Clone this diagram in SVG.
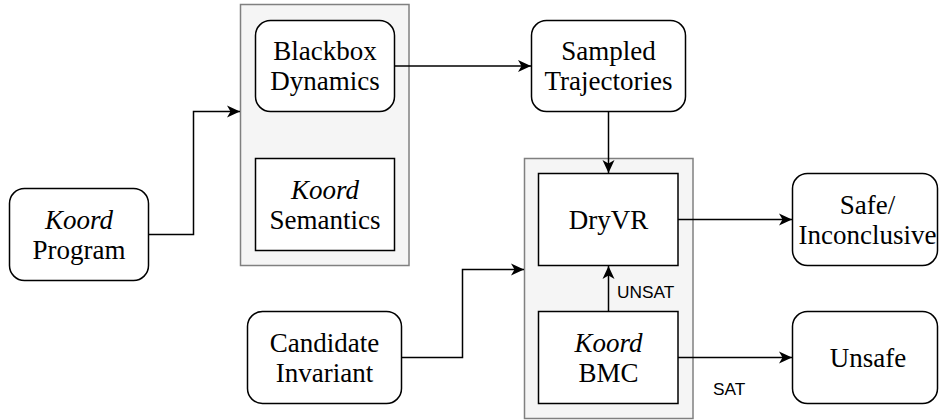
<svg xmlns="http://www.w3.org/2000/svg" width="939" height="420" viewBox="0 0 939 420">
  <style>
    .bg { fill: #ffffff; }
    .group { fill: #f5f5f5; stroke: #808080; stroke-width: 1.5; }
    .node { fill: #ffffff; stroke: #000000; stroke-width: 1.5; }
    .lbl { font-family: "Liberation Serif", "Times New Roman", serif; font-size: 27px; fill: #000000; text-anchor: middle; }
    .it { font-style: italic; }
    .edge { fill: none; stroke: #000000; stroke-width: 1.5; }
    .elbl { font-family: "Liberation Sans", Arial, sans-serif; font-size: 17.3px; fill: #000000; }
  </style>
  <defs>
    <marker id="arrow" markerUnits="userSpaceOnUse" markerWidth="14" markerHeight="13" refX="13" refY="6.5" orient="auto">
      <path d="M0,0.5 L13,6.5 L0,12.5 L3.5,6.5 Z" fill="#000000"/>
    </marker>
  </defs>
  <rect class="bg" x="0" y="0" width="939" height="420"/>

  <!-- container boxes -->
  <g id="model-group">
    <rect class="group" x="240.5" y="4.5" width="168.5" height="261"/>
  </g>
  <g id="verifier-group">
    <rect class="group" x="524.5" y="158.5" width="168.5" height="260"/>
  </g>

  <!-- nodes -->
  <g id="koord-program">
    <rect class="node" x="9.5" y="188.5" width="139" height="92" rx="15"/>
    <text class="lbl it" x="79" y="229">Koord</text>
    <text class="lbl" x="79" y="259">Program</text>
  </g>
  <g id="blackbox-dynamics">
    <rect class="node" x="255.5" y="20.5" width="139" height="91" rx="15"/>
    <text class="lbl" x="325" y="60">Blackbox</text>
    <text class="lbl" x="325" y="90">Dynamics</text>
  </g>
  <g id="koord-semantics">
    <rect class="node" x="255.5" y="158.5" width="139" height="92"/>
    <text class="lbl it" x="325" y="199">Koord</text>
    <text class="lbl" x="325" y="229">Semantics</text>
  </g>
  <g id="sampled-trajectories">
    <rect class="node" x="531.5" y="20.5" width="154" height="91" rx="15"/>
    <text class="lbl" x="608.5" y="60">Sampled</text>
    <text class="lbl" x="608.5" y="90">Trajectories</text>
  </g>
  <g id="dryvr">
    <rect class="node" x="538.5" y="173.5" width="139.5" height="92"/>
    <text class="lbl" x="608.5" y="228.5">DryVR</text>
  </g>
  <g id="koord-bmc">
    <rect class="node" x="538.5" y="311.5" width="139.5" height="92"/>
    <text class="lbl it" x="608.5" y="352">Koord</text>
    <text class="lbl" x="608.5" y="382">BMC</text>
  </g>
  <g id="candidate-invariant">
    <rect class="node" x="247.5" y="311.5" width="154" height="92" rx="15"/>
    <text class="lbl" x="324.5" y="352">Candidate</text>
    <text class="lbl" x="324.5" y="382">Invariant</text>
  </g>
  <g id="safe-inconclusive">
    <rect class="node" x="792.5" y="173.5" width="145" height="92" rx="15"/>
    <text class="lbl" x="867.5" y="214">Safe/</text>
    <text class="lbl" x="867.5" y="244">Inconclusive</text>
  </g>
  <g id="unsafe">
    <rect class="node" x="792.5" y="311.5" width="145" height="92" rx="15"/>
    <text class="lbl" x="868" y="367">Unsafe</text>
  </g>

  <!-- connectors -->
  <g id="connectors">
    <path class="edge" d="M148.5,234.5 H193.5 V111.5 H240" marker-end="url(#arrow)"/>
    <path class="edge" d="M394.5,66 H531" marker-end="url(#arrow)"/>
    <path class="edge" d="M608.5,111.5 V173" marker-end="url(#arrow)"/>
    <path class="edge" d="M678,219.5 H792" marker-end="url(#arrow)"/>
    <path class="edge" d="M401.5,357.5 H462.5 V269.5 H524" marker-end="url(#arrow)"/>
    <path class="edge" d="M608.5,311.5 V266" marker-end="url(#arrow)"/>
    <path class="edge" d="M678,357.5 H792" marker-end="url(#arrow)"/>
    <text class="elbl" x="617" y="298">UNSAT</text>
    <text class="elbl" x="713" y="395">SAT</text>
  </g>
</svg>
